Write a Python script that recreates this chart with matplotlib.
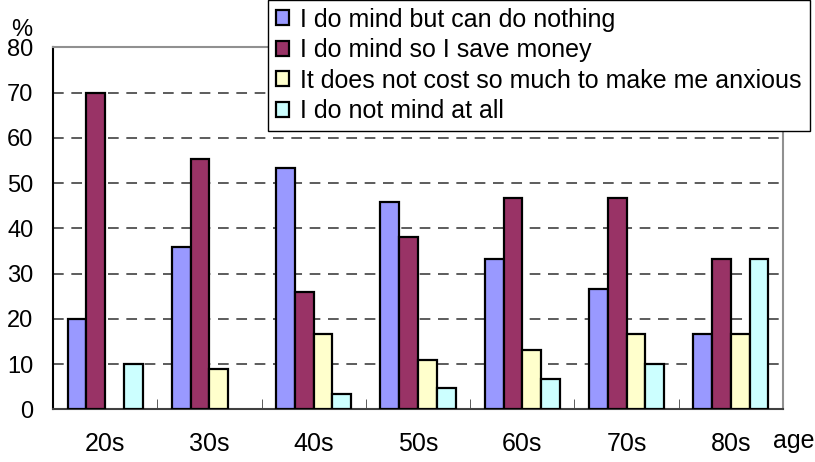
import matplotlib

matplotlib.use("Agg")
import matplotlib.pyplot as plt
import numpy as np

plt.rcParams["font.family"] = ["Liberation Sans", "DejaVu Sans"]

ages = ["20s", "30s", "40s", "50s", "60s", "70s", "80s"]
series_names = [
    "I do mind but can do nothing",
    "I do mind so I save money",
    "It does not cost so much to make me anxious",
    "I do not mind at all",
]
can_do_nothing = [20.0, 35.8, 53.4, 45.9, 33.2, 26.6, 16.7]
save_money = [70.0, 55.3, 26.0, 38.0, 46.8, 46.8, 33.3]
not_anxious = [0.0, 8.8, 16.7, 10.9, 13.2, 16.7, 16.7]
not_mind = [10.0, 0.0, 3.4, 4.7, 6.6, 10.0, 33.3]
colors = ["#9999FF", "#993366", "#FFFFCC", "#CCFFFF"]

W, H = 815, 462
fig = plt.figure(figsize=(W / 100, H / 100), dpi=100)
ax = fig.add_axes([53 / W, (H - 409.3) / H, 730 / W, 362 / H])

x = np.arange(len(ages))
bw = 0.18
data = [can_do_nothing, save_money, not_anxious, not_mind]
handles = []
for i, (vals, col, name) in enumerate(zip(data, colors, series_names)):
    vals = np.asarray(vals)
    pos = x + (i - 1.5) * bw
    keep = vals > 0
    bars = ax.bar(pos[keep], vals[keep], width=bw, color=col, edgecolor="black",
                  linewidth=1.6, label=name, zorder=3)
    handles.append(bars)

ax.set_xlim(-0.5, len(ages) - 0.5)
ax.set_ylim(0, 80)
ax.set_yticks(np.arange(0, 81, 10))
ax.set_xticks(x)
ax.set_xticklabels(ages)
ax.set_xticks(np.arange(0.5, len(ages) - 0.5, 1), minor=True)
ax.tick_params(axis="x", which="major", length=0, pad=16, labelsize=18)
ax.tick_params(axis="x", which="minor", direction="in", length=7, color="#404040")
ax.tick_params(axis="y", length=0, pad=14, labelsize=17)
for yv in range(10, 80, 10):
    ax.axhline(yv, color="#303030", lw=1.1, ls=(0, (7, 5)), zorder=1)

ax.spines["left"].set_color("black")
ax.spines["bottom"].set_color("#404040")
ax.spines["top"].set_color("#909090")
ax.spines["right"].set_color("#909090")
for s in ax.spines.values():
    s.set_linewidth(1.5)

fig.text(22 / W, 1 - 30 / H, "%", fontsize=17, ha="center", va="center")
fig.text(794 / W, 1 - 441 / H, "age", fontsize=18, ha="center", va="center")

leg = fig.legend(handles=handles, labels=series_names, loc="upper left",
                 bbox_to_anchor=(268 / W, 1.0), fontsize=18, frameon=True,
                 fancybox=False, edgecolor="black", framealpha=1,
                 handlelength=0.55, handleheight=0.55, handletextpad=0.45,
                 labelspacing=0.26, borderpad=0.3, borderaxespad=0)
leg.get_frame().set_linewidth(1.0)

fig.savefig("out.png", dpi=100)
